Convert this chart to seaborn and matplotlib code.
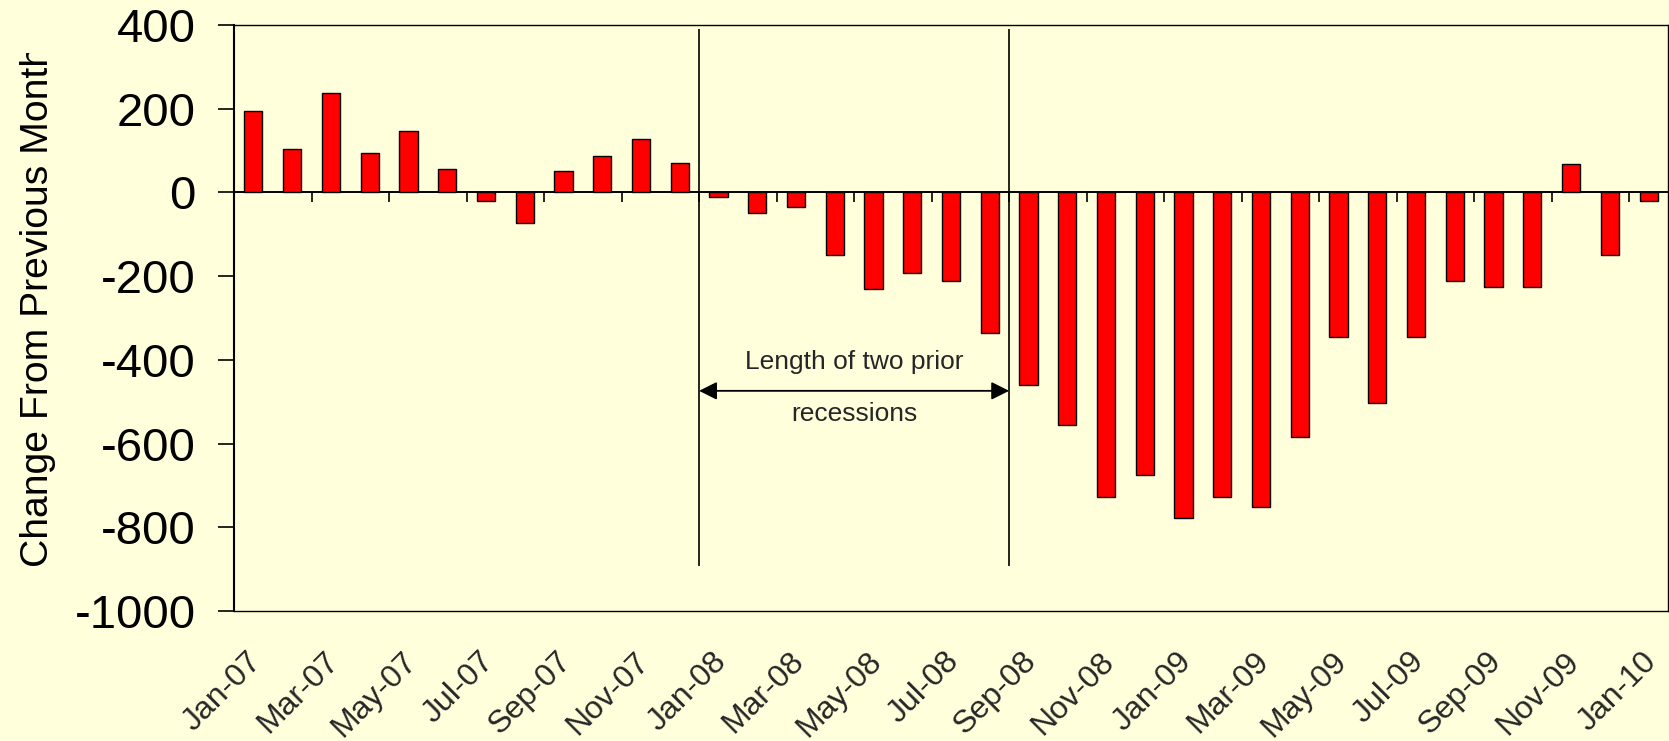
import numpy as np
import matplotlib
matplotlib.use("Agg")
import matplotlib.pyplot as plt
from matplotlib.transforms import Bbox, TransformedBbox, ScaledTranslation
import seaborn as sns

months = ["Jan-07", "Feb-07", "Mar-07", "Apr-07", "May-07", "Jun-07",
          "Jul-07", "Aug-07", "Sep-07", "Oct-07", "Nov-07", "Dec-07",
          "Jan-08", "Feb-08", "Mar-08", "Apr-08", "May-08", "Jun-08",
          "Jul-08", "Aug-08", "Sep-08", "Oct-08", "Nov-08", "Dec-08",
          "Jan-09", "Feb-09", "Mar-09", "Apr-09", "May-09", "Jun-09",
          "Jul-09", "Aug-09", "Sep-09", "Oct-09", "Nov-09", "Dec-09",
          "Jan-10"]
changes = [195, 104, 238, 95, 147, 57, -20, -73, 52, 86, 128, 71,
           -10, -49, -34, -150, -231, -192, -212, -335, -459, -555, -727, -674,
           -779, -727, -752, -584, -346, -503, -346, -212, -225, -225, 67, -150,
           -20]
y_ticks = [400, 200, 0, -200, -400, -600, -800, -1000]
recession_start = "Jan-08"
recession_end = "Sep-08"
note_lines = ["Length of two prior", "recessions"]

bg = "#FFFFDC"
sns.set_theme(style="white", rc={"figure.facecolor": bg, "axes.facecolor": bg})
plt.rcParams["font.family"] = ["Liberation Sans", "DejaVu Sans"]

W, H = 1669, 741
fig = plt.figure(figsize=(W / 100, H / 100), dpi=100)
ax = fig.add_axes([234 / W, 1 - 611 / H, (1668 - 234) / W, (611 - 25) / H])

sns.barplot(x=months, y=changes, color="#FF0000", saturation=1,
            edgecolor="black", linewidth=1.0, width=0.47, ax=ax)

ymin, ymax = -1000, 400
ax.set_xlim(-0.5, len(months) - 0.5)
ax.set_ylim(ymin, ymax)
ax.set_yticks(y_ticks)
ax.set_yticklabels([str(v) for v in y_ticks])
ax.tick_params(axis="y", left=True, direction="out", length=11.5, width=1.2,
               labelsize=34, pad=16, colors="black")

# month labels every two months, at the bottom of the plot
lab_pos = np.arange(0, len(months), 2)
ax.set_xticks(lab_pos)
ax.set_xticklabels([months[i] for i in lab_pos], rotation=45, ha="right",
                   va="top", rotation_mode="anchor", fontsize=23)
ax.tick_params(axis="x", bottom=True, length=0, pad=25.5)
shift = ScaledTranslation(-7 / 100, 0, fig.dpi_scale_trans)
for lab in ax.get_xticklabels():
    lab.set_transform(lab.get_transform() + shift)
ax.set_xlabel("")

for side, sp in ax.spines.items():
    sp.set_visible(True)
    sp.set_color("black")
    sp.set_linewidth(1.0)
ax.spines["left"].set_linewidth(1.5)

# category axis crossing at zero, with tick marks between month pairs
sec = ax.secondary_xaxis((0 - ymin) / (ymax - ymin))
sec.set_alignment("bottom")
sec.set_xticks(np.arange(-0.5, len(months), 2))
sec.set_xticklabels([])
sec.tick_params(axis="x", direction="out", length=7.5, width=1.2, colors="black")
sec.spines["bottom"].set_color("black")
sec.spines["bottom"].set_linewidth(1.4)

# recession markers
x0 = months.index(recession_start) - 0.5
x1 = months.index(recession_end) - 0.5
ax.vlines([x0, x1], -892, 390, color="black", linewidth=1.2)
ax.annotate("", xy=(x1, -474), xytext=(x0, -474),
            arrowprops=dict(arrowstyle="<|-|>", color="black", lw=1.3,
                            mutation_scale=27, shrinkA=0, shrinkB=0))
xm = (x0 + x1) / 2
ax.text(xm, -405, note_lines[0], ha="center", va="center", fontsize=19)
ax.text(xm, -530, note_lines[1], ha="center", va="center", fontsize=19)

# y label, clipped at the top like the original
t = fig.text(38 / W, 1 - 306 / H, "Change From Previous Month", rotation=90,
             ha="center", va="center", fontsize=28.2, color="black")
t.set_clip_box(TransformedBbox(Bbox([[0, 0], [1, 1 - 53 / H]]), fig.transFigure))
t.set_clip_on(True)

fig.savefig("out.png", dpi=100, facecolor=bg)
